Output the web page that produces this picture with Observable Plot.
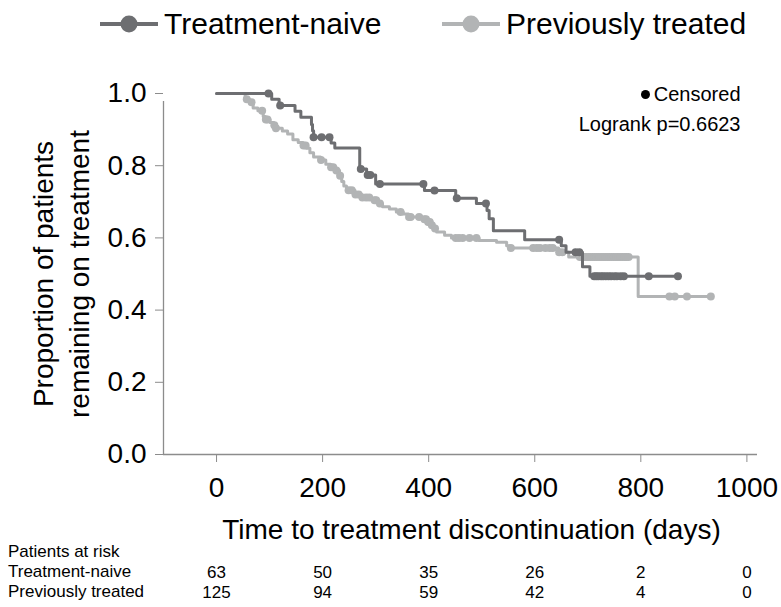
<!DOCTYPE html>
<html>
<head>
<meta charset="utf-8">
<script src="https://cdn.jsdelivr.net/npm/d3@7"></script>
<script src="https://cdn.jsdelivr.net/npm/@observablehq/plot@0.6"></script>
<style>
  body { margin: 0; background: #fff; }
  #chart { position: relative; width: 781px; height: 607px; overflow: hidden;
           font-family: "Liberation Sans", Arial, sans-serif; color: #000; background: #fff; }
  #chart > svg { position: absolute; left: 0; background: transparent; }
  #chart .leg { position: absolute; display: flex; align-items: center; font-size: 30px; line-height: 1; white-space: nowrap; }
  #chart .leg svg { position: static; margin-right: 6px; flex: none; }
  #chart .row { position: absolute; left: 8px; font-size: 17px; line-height: 20px; white-space: nowrap; }
</style>
</head>
<body>
<div id="chart"></div>
<script>
// ---------- data ----------
const groups = ["Treatment-naive", "Previously treated"];
const groupColors = ["#6d6e71", "#b2b4b5"];

const naiveStepDays = [0, 104, 118, 148, 159, 179, 181, 183, 216, 223, 270, 283, 300, 392, 451, 490, 510, 514, 522, 581, 650, 659, 690, 704];
const naiveStepSurv = [1, 0.984, 0.967, 0.951, 0.934, 0.914, 0.897, 0.879, 0.863, 0.849, 0.791, 0.774, 0.749, 0.731, 0.71, 0.695, 0.676, 0.653, 0.62, 0.595, 0.578, 0.56, 0.52, 0.494];
const naiveCensorDays = [98, 120, 183, 198, 213, 272, 285, 290, 308, 390, 411, 453, 508, 646, 677, 684, 712, 716, 720, 725, 729, 734, 739, 744, 750, 755, 762, 768, 815, 870];
const naiveCensorSurv = [1, 0.967, 0.879, 0.879, 0.879, 0.791, 0.774, 0.774, 0.749, 0.749, 0.731, 0.71, 0.695, 0.595, 0.56, 0.56, 0.494, 0.494, 0.494, 0.494, 0.494, 0.494, 0.494, 0.494, 0.494, 0.494, 0.494, 0.494, 0.494, 0.494];

const prevStepDays = [0, 54, 62, 69, 78, 88, 92, 101, 108, 112, 124, 134, 144, 154, 163, 170, 176, 183, 196, 206, 215, 225, 232, 236, 240, 245, 261, 274, 293, 306, 313, 326, 339, 352, 362, 388, 398, 404, 410, 415, 430, 443, 495, 528, 547, 554, 645, 664, 795];
const prevStepSurv = [1, 0.984, 0.976, 0.96, 0.952, 0.936, 0.928, 0.92, 0.912, 0.904, 0.896, 0.888, 0.872, 0.864, 0.856, 0.848, 0.836, 0.824, 0.816, 0.804, 0.796, 0.787, 0.772, 0.756, 0.744, 0.732, 0.72, 0.712, 0.704, 0.695, 0.686, 0.68, 0.672, 0.666, 0.658, 0.652, 0.644, 0.635, 0.626, 0.616, 0.607, 0.6, 0.593, 0.588, 0.578, 0.572, 0.56, 0.547, 0.438];
const prevCensorDays = [57, 66, 86, 93, 96, 109, 112, 164, 168, 197, 216, 220, 226, 233, 249, 255, 262, 268, 275, 282, 288, 298, 301, 308, 347, 363, 366, 382, 392, 395, 399, 402, 406, 412, 451, 457, 464, 477, 490, 555, 597, 604, 610, 620, 628, 634, 646, 652,
  685, 689, 693, 697, 701, 705, 709, 713, 717, 721, 725, 729, 733, 737, 741, 745, 749, 753, 757, 761, 765, 769, 773, 777,
  854, 864, 887, 932];
const prevCensorSurv = [0.984, 0.976, 0.952, 0.928, 0.928, 0.912, 0.904, 0.856, 0.856, 0.816, 0.796, 0.796, 0.787, 0.772, 0.732, 0.732, 0.72, 0.72, 0.712, 0.712, 0.712, 0.704, 0.704, 0.695, 0.672, 0.658, 0.658, 0.658, 0.652, 0.652, 0.644, 0.644, 0.635, 0.626, 0.6, 0.6, 0.6, 0.6, 0.6, 0.572, 0.572, 0.572, 0.572, 0.572, 0.572, 0.572, 0.56, 0.56,
  0.547, 0.547, 0.547, 0.547, 0.547, 0.547, 0.547, 0.547, 0.547, 0.547, 0.547, 0.547, 0.547, 0.547, 0.547, 0.547, 0.547, 0.547, 0.547, 0.547, 0.547, 0.547, 0.547, 0.547,
  0.438, 0.438, 0.438, 0.438];

const xTicks = [0, 200, 400, 600, 800, 1000];
const yTicks = [0, 0.2, 0.4, 0.6, 0.8, 1.0];
const riskNaive = [63, 50, 35, 26, 2, 0];
const riskPrev = [125, 94, 59, 42, 4, 0];

const xLabel = "Time to treatment discontinuation (days)";
const yLabel = "Proportion of patients\nremaining on treatment";
const censorLabel = "Censored";
const logrankLabel = "Logrank p=0.6623";
const riskTitle = "Patients at risk";

// ---------- build tables ----------
function stepRows(group, days, surv, censorDays) {
  const rows = days.map((d, i) => ({group, day: d, surv: surv[i]}));
  const end = d3.max(censorDays);
  if (end > days[days.length - 1]) rows.push({group, day: end, surv: surv[surv.length - 1]});
  return rows;
}
const censorRows = (group, days, surv) => days.map((d, i) => ({group, day: d, surv: surv[i]}));

const naiveLine = stepRows(groups[0], naiveStepDays, naiveStepSurv, naiveCensorDays);
const prevLine = stepRows(groups[1], prevStepDays, prevStepSurv, prevCensorDays);
const naiveDots = censorRows(groups[0], naiveCensorDays, naiveCensorSurv);
const prevDots = censorRows(groups[1], prevCensorDays, prevCensorSurv);
const riskRows = [
  ...xTicks.map((d, i) => ({group: groups[0], day: d, n: riskNaive[i]})),
  ...xTicks.map((d, i) => ({group: groups[1], day: d, n: riskPrev[i]}))
];

const axisColor = "#8c8c8c";
const font = '"Liberation Sans", Arial, sans-serif';
const xDomain = [-100, 1020];
const color = {domain: groups, range: groupColors};

const main = Plot.plot({
  width: 781, height: 540,
  marginTop: 93, marginBottom: 86, marginLeft: 163, marginRight: 24,
  x: {domain: xDomain},
  y: {domain: [0, 1]},
  color,
  style: {fontFamily: font, fontSize: "28px", color: "#000", background: "transparent", overflow: "visible"},
  marks: [
    Plot.ruleY([0], {stroke: axisColor, strokeWidth: 1.3}),
    Plot.ruleX([xDomain[0]], {y1: 0, y2: 1, stroke: axisColor, strokeWidth: 1.3, insetBottom: -8}),
    Plot.axisX({ticks: xTicks, tickSize: 8, tickPadding: 15, tickFormat: d3.format("d"), stroke: axisColor, fill: "#000", fontSize: 28, label: null}),
    Plot.axisY({ticks: yTicks, tickSize: 8, tickPadding: 9, tickFormat: d3.format(".1f"), stroke: axisColor, fill: "#000", fontSize: 28, label: null}),
    Plot.text([xLabel], {text: d => d, frameAnchor: "bottom", dx: 11, dy: 76, fontSize: 28, lineAnchor: "middle"}),
    Plot.text([yLabel], {text: d => d, frameAnchor: "left", rotate: -90, dx: -104, fontSize: 28, lineHeight: 1.29, lineAnchor: "middle", textAnchor: "middle"}),
    Plot.line(prevLine, {x: "day", y: "surv", stroke: "group", strokeWidth: 3, curve: "step-after"}),
    Plot.dot(prevDots, {x: "day", y: "surv", fill: "group", r: 4}),
    Plot.line(naiveLine, {x: "day", y: "surv", stroke: "group", strokeWidth: 3, curve: "step-after"}),
    Plot.dot(naiveDots, {x: "day", y: "surv", fill: "group", r: 4}),
    Plot.dot([censorLabel], {frameAnchor: "top-right", dx: -112, dy: 1, r: 4.5, fill: "#000"}),
    Plot.text([censorLabel], {text: d => d, frameAnchor: "top-right", dx: -17, dy: 1, fontSize: 20, textAnchor: "end", lineAnchor: "middle"}),
    Plot.text([logrankLabel], {text: d => d, frameAnchor: "top-right", dx: -17, dy: 31, fontSize: 20, textAnchor: "end", lineAnchor: "middle"})
  ]
});
main.style.top = "0px";

const risk = Plot.plot({
  width: 781, height: 67,
  marginTop: 0, marginBottom: 0, marginLeft: 163, marginRight: 24,
  x: {domain: xDomain, axis: null},
  y: {type: "point", domain: groups, range: [32, 52], padding: 0, axis: null},
  style: {fontFamily: font, fontSize: "17px", color: "#000", background: "transparent"},
  marks: [
    Plot.text(riskRows, {x: "day", y: "group", text: "n", fontSize: 17})
  ]
});
risk.style.top = "540px";

const chart = document.getElementById("chart");
chart.appendChild(main);
chart.appendChild(risk);

// legend
const legendLeft = [100, 442];
groups.forEach((g, i) => {
  const item = document.createElement("div");
  item.className = "leg";
  item.style.left = legendLeft[i] + "px";
  item.style.top = "9px";
  item.innerHTML = `<svg width="58" height="26"><line x1="0" x2="58" y1="13" y2="13" stroke="${groupColors[i]}" stroke-width="4"/><circle cx="29" cy="13" r="8.5" fill="${groupColors[i]}"/></svg><span>${g}</span>`;
  chart.appendChild(item);
});

// risk table row labels
[riskTitle, ...groups].forEach((t, i) => {
  const r = document.createElement("div");
  r.className = "row";
  r.style.top = (542 + i * 20) + "px";
  r.textContent = t;
  chart.appendChild(r);
});
</script>
</body>
</html>
